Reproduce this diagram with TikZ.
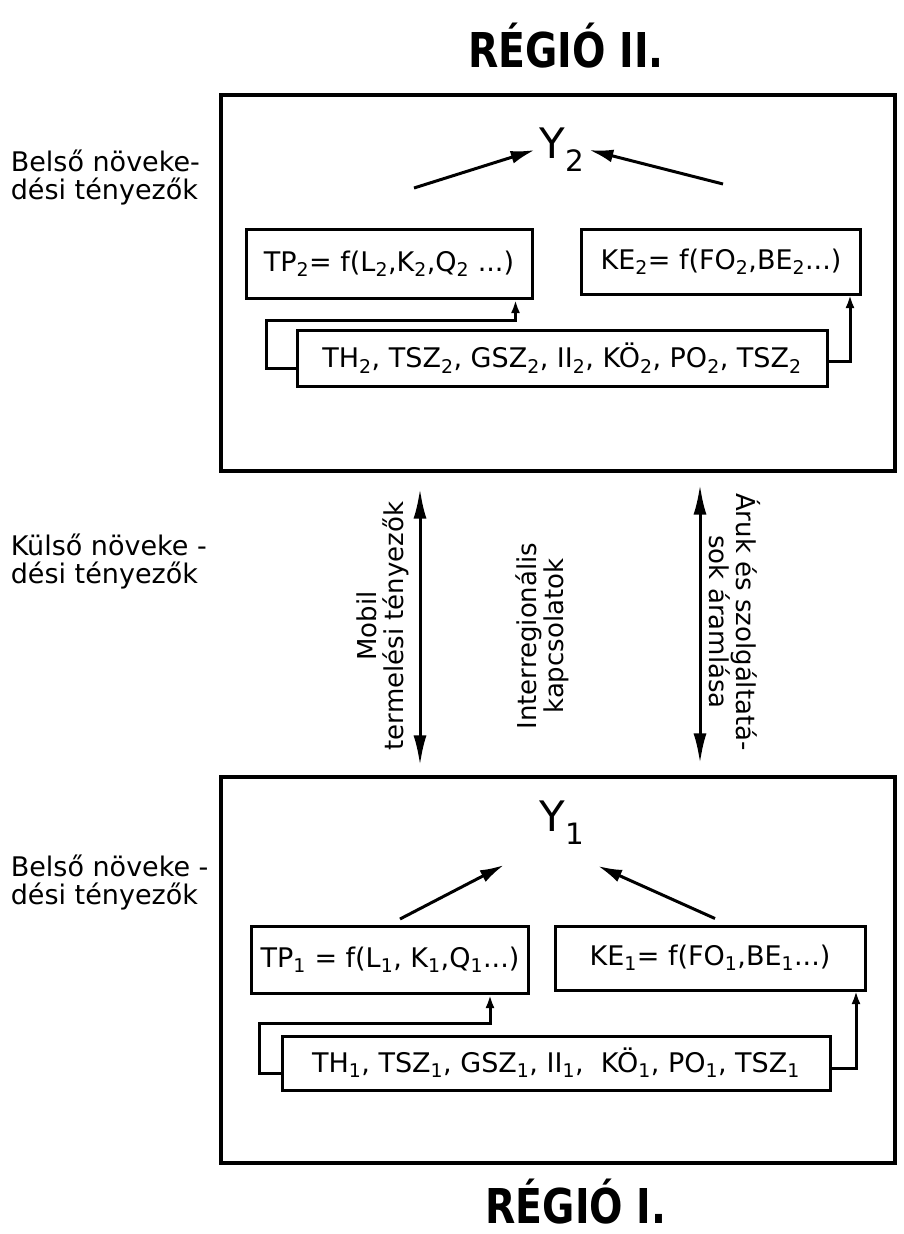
\documentclass[tikz,border=0pt]{standalone}
\usepackage{fontspec}
\setmainfont{DejaVu Sans}
\usetikzlibrary{arrows.meta,positioning}
\newcommand{\ix}[1]{\textsubscript{#1}}

\begin{document}
\begin{tikzpicture}[x = 1pt, y = -1pt, line width = 3pt,
  region/.style = {draw, line width = 3.2pt, inner sep = 0pt, minimum width = 674pt},
  fbox/.style = {draw, inner sep = 0pt, font = \fontsize{27}{29}\selectfont},
  side/.style = {anchor = west, align = left, font = \fontsize{27}{28}\selectfont},
  vlab/.style = {align = center, font = \fontsize{26}{27}\selectfont},
  title/.style = {font = \bfseries\fontsize{48}{48}\selectfont},
  yout/.style = {font = \fontsize{42}{42}\selectfont},
  tip/.style = {-{Latex[length = 24pt, width = 13pt]}},
  up/.style = {-{Latex[length = 13pt, width = 9pt]}},
  flow/.style = {{Latex[length = 30pt, width = 13pt]}-{Latex[length = 30pt, width = 13pt]}}]
\useasboundingbox (0, 0) rectangle (904, 1234);

% region II
\node[title] (t2) at (566, 46) {\scalebox{0.82}[1]{RÉGIÓ II.}};
\node[region, minimum height = 376pt] (reg2) at (558, 283) {};
\node[yout] (y2) at (562, 150) {Y\ix{2}};
\node[fbox, minimum width = 286pt, minimum height = 69pt] (tp2) at (389, 264) {TP\ix{2}= f(L\ix{2},K\ix{2},Q\ix{2} ...)};
\node[fbox, minimum width = 279pt, minimum height = 65pt] (ke2) at (721, 262) {KE\ix{2}= f(FO\ix{2},BE\ix{2}...)};
\node[fbox, minimum width = 530pt, minimum height = 56pt] (th2) at (562, 358) {TH\ix{2}, TSZ\ix{2}, GSZ\ix{2}, II\ix{2}, KÖ\ix{2}, PO\ix{2}, TSZ\ix{2}};
\draw[tip] ([xshift = 25pt, yshift = 40pt]tp2.north) -- (y2.west);
\draw[tip] ([xshift = 2pt, yshift = 44pt]ke2.north) -- (y2.east);
\coordinate (l2) at (266, 320);
\coordinate (r2) at (850, 295);
\draw[up] ([yshift = -10pt]th2.west) -| (l2) -| ([xshift = -18pt]tp2.south east);
\draw[up] ([yshift = -3pt]th2.east) -| (r2);

% labels on the left
\node[side] (in2) at (6, 178) {Belső növeke-\\dési tényezők};
\node[side] (ext) at (6, 562) {Külső növeke -\\dési tényezők};
\node[side] (in1) at (6, 882) {Belső növeke -\\dési tényezők};

% region I
\node[region, minimum height = 386pt] (reg1) at (558, 970) {};
\node[yout] (y1) at (562, 823) {Y\ix{1}};
\node[fbox, minimum width = 277pt, minimum height = 67pt] (tp1) at (390, 960) {TP\ix{1} = f(L\ix{1}, K\ix{1},Q\ix{1}...)};
\node[fbox, minimum width = 310pt, minimum height = 64pt] (ke1) at (710, 958) {KE\ix{1}= f(FO\ix{1},BE\ix{1}...)};
\node[fbox, minimum width = 548pt, minimum height = 54pt] (th1) at (556, 1063) {TH\ix{1}, TSZ\ix{1}, GSZ\ix{1}, II\ix{1},\ \ KÖ\ix{1}, PO\ix{1}, TSZ\ix{1}};
\draw[tip] ([xshift = 10pt, yshift = 6pt]tp1.north) -- ([xshift = -58pt, yshift = -42pt]y1.center);
\draw[tip] ([xshift = 5pt, yshift = 6pt]ke1.north) -- ([xshift = 36pt, yshift = -43pt]y1.center);
\coordinate (l1) at (259, 1023);
\coordinate (r1) at (856, 991);
\draw[up] ([yshift = -10pt]th1.west) -| (l1) -| ([xshift = -40pt]tp1.south east);
\draw[up] ([yshift = -5pt]th1.east) -| (r1);
\node[title] (t1) at (576, 1202) {\scalebox{0.82}[1]{RÉGIÓ I.}};

% interregional flows
\coordinate (fa) at (420, 0);
\coordinate (fb) at (700, 0);
\draw[flow, shorten <= 16pt, shorten >= 10pt] (reg2.south -| fa) -- (reg1.north -| fa);
\draw[flow, shorten <= 12pt, shorten >= 12pt] (reg2.south -| fb) -- (reg1.north -| fb);
\node[vlab, rotate = 90] (mob) at (383, 626) {Mobil\\termelési tényezők};
\node[vlab, rotate = 90] (inter) at (542, 636) {Interregionális\\kapcsolatok};
\node[vlab, rotate = -90] (aru) at (735, 622) {Áruk és szolgáltatá-\\sok áramlása};
\end{tikzpicture}
\end{document}
